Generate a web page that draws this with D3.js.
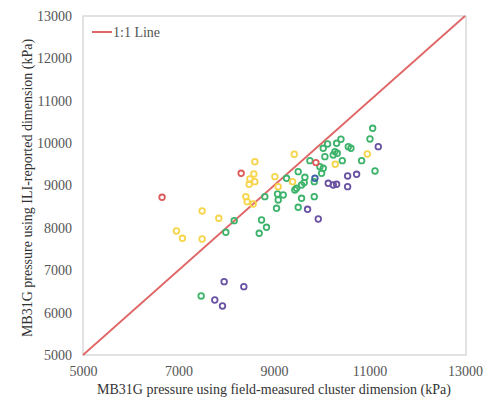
<!DOCTYPE html>
<html>
<head>
<meta charset="utf-8">
<script src="https://cdn.jsdelivr.net/npm/d3@7"></script>
<style>
  body { margin: 0; background: #fff; }
  svg text { font-family: "Liberation Serif", "DejaVu Serif", serif; }
</style>
</head>
<body>
<script>
// values (kPa): [field-measured, ILI-reported]
var greenPts = [
  [7474, 6393], [8166, 8171], [7991, 7895], [8808, 8737], [8739, 8187],
  [8843, 8013], [8690, 7872], [9074, 8800], [9193, 8777], [9088, 8659],
  [9053, 8462], [9263, 9170], [9507, 9327], [9472, 8934], [9437, 8895],
  [9577, 9013], [9633, 9068], [9647, 9194], [9577, 8698], [9507, 8486],
  [9843, 8737], [9752, 9587], [9962, 9445], [10031, 9406], [9997, 9288],
  [9843, 9091], [10031, 9878], [10122, 9980], [10311, 9996], [10402, 10091],
  [10276, 9800], [10241, 9721], [10066, 9681], [10430, 9587], [10556, 9917],
  [10611, 9878], [10835, 9587], [11010, 10098], [11066, 10350], [11115, 9343],
  [10325, 9760]
];
var yellowPts = [
  [6957, 7927], [7082, 7754], [7495, 8399], [7495, 7738], [7844, 8226],
  [8599, 9563], [8578, 9272], [8494, 9154], [8480, 9028], [8599, 9091],
  [8410, 8737], [8438, 8619], [8564, 8564], [9018, 9209], [9088, 8973],
  [9424, 9737], [9389, 9091], [10954, 9744], [10283, 9500]
];
var redPts = [[6656, 8721], [8312, 9288], [9878, 9540]];
var purplePts = [
  [7956, 6731], [8368, 6613], [7760, 6298], [7921, 6157], [9703, 8438],
  [9927, 8210], [10136, 9052], [10241, 9013], [10311, 9028], [10542, 9225],
  [10730, 9264], [10542, 8973], [11184, 9917]
];
var bluePts = [[9857, 9170]];
var yTicks = [5000, 6000, 7000, 8000, 9000, 10000, 11000, 12000, 13000];
var xTicks = [5000, 7000, 9000, 11000, 13000];

var width = 483, height = 402;
var pLeft = 83, pRight = 466, pTop = 16, pBottom = 355;
var serif = "'Liberation Serif', 'DejaVu Serif', serif";

var svg = d3.select("body").append("svg")
    .attr("width", width)
    .attr("height", height);

var x = d3.scaleLinear().domain([5000, 13000]).range([pLeft, pRight - 1]);
var y = d3.scaleLinear().domain([5000, 13000]).range([pBottom, pTop]);

// plot frame
svg.append("rect")
    .attr("x", pLeft).attr("y", pTop)
    .attr("width", pRight - pLeft).attr("height", pBottom - pTop)
    .attr("fill", "none")
    .attr("stroke", "#cfcfcf")
    .attr("stroke-width", 1.2);

// axes, labels only
var xAxis = svg.append("g")
    .attr("transform", "translate(0," + pBottom + ")")
    .call(d3.axisBottom(x).tickValues(xTicks).tickSize(0).tickPadding(11).tickFormat(d3.format("d")));
var yAxis = svg.append("g")
    .attr("transform", "translate(" + pLeft + ",0)")
    .call(d3.axisLeft(y).tickValues(yTicks).tickSize(0).tickPadding(11).tickFormat(d3.format("d")));
[xAxis, yAxis].forEach(function(a) {
  a.attr("font-family", serif).attr("font-size", 14);
  a.select(".domain").remove();
  a.selectAll("text").attr("fill", "#555");
});

// 1:1 line
svg.append("line")
    .attr("x1", x(5000)).attr("y1", y(5000))
    .attr("x2", x(13000)).attr("y2", y(13000))
    .attr("stroke", "#e06666")
    .attr("stroke-width", 1.8);

// points
var groups = [
  {pts: greenPts, color: "#3db36b"},
  {pts: yellowPts, color: "#f7d54a"},
  {pts: purplePts, color: "#6a52a3"},
  {pts: redPts, color: "#dc5a5a"},
  {pts: bluePts, color: "#3d62a8"}
];
groups.forEach(function(g) {
  svg.append("g")
    .selectAll("circle")
    .data(g.pts)
    .enter()
    .append("circle")
    .attr("cx", function(d) { return x(d[0]); })
    .attr("cy", function(d) { return y(d[1]); })
    .attr("r", 2.8)
    .attr("fill", "none")
    .attr("stroke", g.color)
    .attr("stroke-width", 1.8);
});

// legend
svg.append("line")
    .attr("x1", 92).attr("x2", 112)
    .attr("y1", 32).attr("y2", 32)
    .attr("stroke", "#e06666")
    .attr("stroke-width", 2);
svg.append("text")
    .attr("x", 113).attr("y", 37)
    .attr("fill", "#555")
    .attr("font-family", serif)
    .attr("font-size", 14)
    .text("1:1 Line");

// axis titles
svg.append("text")
    .attr("x", 274).attr("y", 394)
    .attr("text-anchor", "middle")
    .attr("fill", "#333")
    .attr("font-family", serif)
    .attr("font-size", 14)
    .text("MB31G  pressure using field-measured cluster dimension (kPa)");
svg.append("text")
    .attr("transform", "translate(32,188) rotate(-90)")
    .attr("text-anchor", "middle")
    .attr("fill", "#333")
    .attr("font-family", serif)
    .attr("font-size", 14)
    .text("MB31G pressure using ILI-reported dimension (kPa)");
</script>
</body>
</html>
